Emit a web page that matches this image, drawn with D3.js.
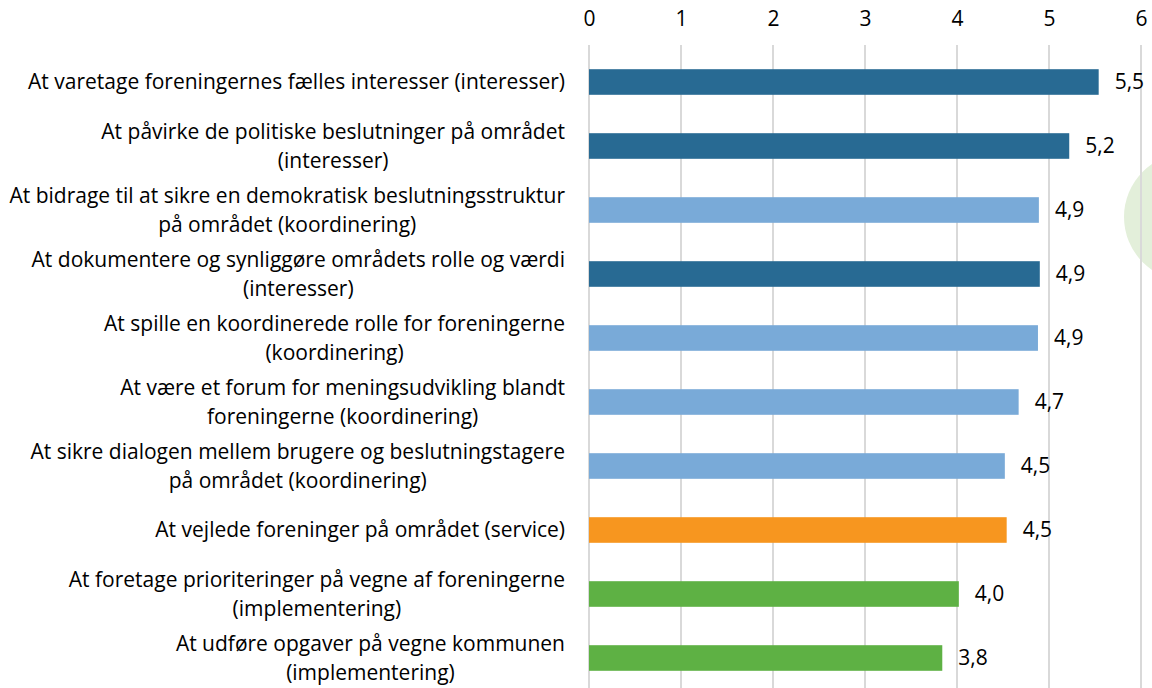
<!DOCTYPE html>
<html>
<head>
<meta charset="utf-8">
<script src="https://cdn.jsdelivr.net/npm/d3@7"></script>
<style>
  body { margin: 0; background: #fff; }
  text { font-family: "Open Sans", sans-serif; fill: #000; }
</style>
</head>
<body>
<div id="chart"></div>
<script>
// labels (each entry = wrapped lines), values, group colours
const labels = [
    ['At varetage foreningernes fælles interesser (interesser)'],
    ['At påvirke de politiske beslutninger på området', '(interesser)'],
    ['At bidrage til at sikre en demokratisk beslutningsstruktur', 'på området (koordinering)'],
    ['At dokumentere og synliggøre områdets rolle og værdi', '(interesser)'],
    ['At spille en koordinerede rolle for foreningerne', '(koordinering)'],
    ['At være et forum for meningsudvikling blandt', 'foreningerne (koordinering)'],
    ['At sikre dialogen mellem brugere og beslutningstagere', 'på området (koordinering)'],
    ['At vejlede foreninger på området (service)'],
    ['At foretage prioriteringer på vegne af foreningerne', '(implementering)'],
    ['At udføre opgaver på vegne kommunen', '(implementering)']
];
const values = [5.54, 5.22, 4.89, 4.9, 4.88, 4.67, 4.52, 4.54, 4.02, 3.84];
const groups = ['interesser', 'interesser', 'koordinering', 'interesser', 'koordinering',
    'koordinering', 'koordinering', 'service', 'implementering', 'implementering'];
const groupNames = ['interesser', 'koordinering', 'service', 'implementering'];
const groupColors = ['#286a93', '#79aad8', '#f7961f', '#5eb144'];
const ticks = [0, 1, 2, 3, 4, 5, 6];

const W = 1152, H = 688;
const fontSize = '21px';
const svg = d3.select('#chart').append('svg')
    .attr('width', W).attr('height', H);

// decorative circle at right edge
svg.append('circle')
    .attr('cx', 1188).attr('cy', 217).attr('r', 64)
    .attr('fill', '#e3efda');

const x = d3.scaleLinear().domain([0, 6]).range([589, 1141]);
const y = d3.scaleBand().domain(d3.range(labels.length)).range([50, 690])
    .paddingInner(0.6).paddingOuter(0.3);
const color = d3.scaleOrdinal().domain(groupNames).range(groupColors);

// gridlines
svg.append('g').selectAll('line')
    .data(ticks).enter().append('line')
    .attr('x1', d => x(d)).attr('x2', d => x(d))
    .attr('y1', 45).attr('y2', H)
    .attr('stroke', '#d9d9d9').attr('stroke-width', 2);

// top axis labels
const axis = svg.append('g').attr('transform', 'translate(0,19)')
    .call(d3.axisTop(x).tickValues(ticks).tickFormat(d3.format('d')).tickSize(0).tickPadding(0));
axis.select('.domain').remove();
axis.selectAll('text')
    .attr('dy', '0.35em')
    .style('font-size', fontSize)
    .style('font-family', '"Open Sans", sans-serif')
    .style('fill', '#000');

// bars
svg.append('g').selectAll('rect')
    .data(values).enter().append('rect')
    .attr('x', x(0))
    .attr('y', (d, i) => y(i))
    .attr('width', d => x(d) - x(0))
    .attr('height', y.bandwidth())
    .attr('fill', (d, i) => color(groups[i]));

// value labels
svg.append('g').selectAll('text')
    .data(values).enter().append('text')
    .attr('x', d => x(d) + 16)
    .attr('y', (d, i) => y(i) + y.bandwidth() / 2)
    .attr('dy', '0.35em')
    .style('font-size', fontSize)
    .text(d => d3.format('.1f')(d).replace('.', ','));

// category labels: block right-aligned, lines centred within block
const lineH = 29;
labels.forEach((lines, i) => {
    const cy = y(i) + y.bandwidth() / 2;
    const g = svg.append('g');
    const ts = g.selectAll('text').data(lines).enter().append('text')
        .attr('y', (d, j) => cy + (j - (lines.length - 1) / 2) * lineH)
        .attr('dy', '0.35em')
        .attr('text-anchor', 'middle')
        .style('font-size', fontSize)
        .text(d => d);
    const maxW = d3.max(ts.nodes(), n => n.getComputedTextLength());
    ts.attr('x', 565 - maxW / 2);
});
</script>
</body>
</html>
